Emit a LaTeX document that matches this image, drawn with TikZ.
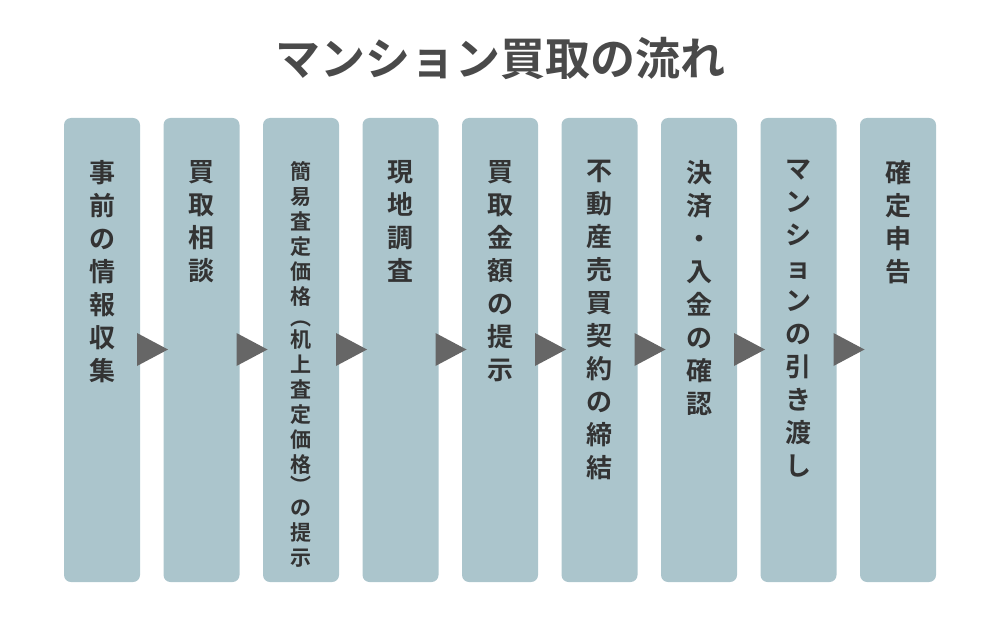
\documentclass[tikz,border=0pt]{standalone}
\usepackage{fontspec}
\setmainfont{Noto Sans CJK JP}[BoldFont={* Bold}]
\definecolor{boxc}{HTML}{ABC5CC}
\definecolor{arrc}{HTML}{666666}
\definecolor{txtc}{HTML}{333333}
\definecolor{ttl}{HTML}{4A4A4A}
\tikzset{
 col/.style={fill=boxc,rounded corners=7pt,draw=none},
 vt/.style={anchor=north,align=center,text=txtc,font=\bfseries\fontsize{26}{33}\selectfont,inner sep=0pt},
 vts/.style={anchor=north,align=center,text=txtc,font=\bfseries\fontsize{21}{25}\selectfont,inner sep=0pt},
 tri/.style={fill=arrc,draw=none}
}
\begin{document}
\begin{tikzpicture}[x=1pt,y=-1pt]
\useasboundingbox (0,0) rectangle (1000,620);
\node[text=ttl,font=\bfseries\fontsize{45}{48}\selectfont] (title) at (500,58) {マンション買取の流れ};
\foreach \i/\t in {0/事\\前\\の\\情\\報\\収\\集,1/買\\取\\相\\談,3/現\\地\\調\\査,4/買\\取\\金\\額\\の\\提\\示,5/不\\動\\産\\売\\買\\契\\約\\の\\締\\結,6/決\\済\\・\\入\\金\\の\\確\\認,7/マ\\ン\\シ\\ョ\\ン\\の\\引\\き\\渡\\し,8/確\\定\\申\\告}{
  \pgfmathsetmacro{\xl}{64+99.5*\i}
  \fill[col] (\xl,118) rectangle ++(76,464);
  \node[vt] (t\i) at (\xl+38,160) {\t};
}
\pgfmathsetmacro{\xl}{64+99.5*2}
\fill[col] (\xl,118) rectangle ++(76,464);
\node[vts] (t2) at (\xl+38,161) {簡\\易\\査\\定\\価\\格\\[-3.5pt]︵\\[-3.5pt]机\\上\\査\\定\\価\\格\\[-3.5pt]︶\\[-3.5pt]の\\提\\示};
\foreach \i in {0,...,7}{
  \pgfmathsetmacro{\xa}{137+99.5*\i}
  \fill[tri] (\xa,333) -- (\xa+31,349.5) -- (\xa,366) -- cycle;
}
\end{tikzpicture}
\end{document}
